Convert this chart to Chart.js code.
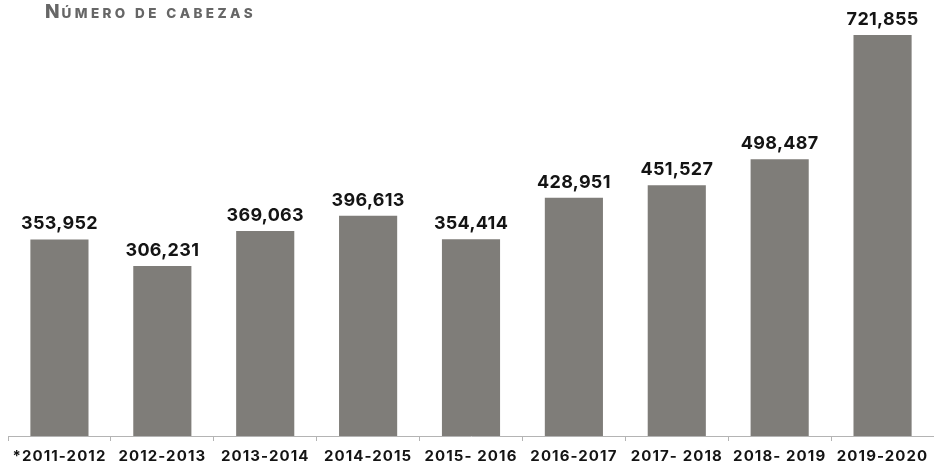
<!DOCTYPE html>
<html>
<head>
<meta charset="utf-8">
<script src="https://cdn.jsdelivr.net/npm/chart.js@4"></script>
<style>
  body { margin: 0; background: #fff; }
  #wrap { position: relative; width: 934px; height: 468px; }
</style>
</head>
<body>
<div id="wrap"><canvas id="chart"></canvas></div>
<script>
const seasons = ["*2011-2012", "2012-2013", "2013-2014", "2014-2015", "2015- 2016", "2016-2017", "2017- 2018", "2018- 2019", "2019-2020"];
const heads = [353952, 306231, 369063, 396613, 354414, 428951, 451527, 498487, 721855];
const titleText = "Número de cabezas";

const FONT = "Inter, 'DejaVu Sans', sans-serif";

// wider tracking for the axis labels (the original uses a wide geometric face)
const tracking = {
  id: "tracking",
  beforeDraw(chart) {
    chart.ctx.letterSpacing = "1.1px";
  }
};

// labels above each bar
const barLabels = {
  id: "barLabels",
  afterDatasetsDraw(chart) {
    const ctx = chart.ctx;
    const meta = chart.getDatasetMeta(0);
    ctx.save();
    ctx.letterSpacing = "0.3px";
    ctx.font = "bold 18px " + FONT;
    ctx.fillStyle = "#141414";
    ctx.textAlign = "center";
    ctx.textBaseline = "alphabetic";
    meta.data.forEach((bar, i) => {
      ctx.fillText(heads[i].toLocaleString("en-US"), bar.x, bar.y - 10);
    });
    ctx.restore();
  }
};

// small caps heading drawn by hand: big first letter, smaller capitals after
const heading = {
  id: "heading",
  afterDraw(chart) {
    const ctx = chart.ctx;
    ctx.save();
    ctx.letterSpacing = "0px";
    ctx.fillStyle = "#666";
    ctx.textBaseline = "alphabetic";
    let x = 45;
    const y = 18;
    ctx.font = "800 19px " + FONT;
    const first = titleText[0].toUpperCase();
    ctx.fillText(first, x, y);
    x += ctx.measureText(first).width + 2;
    ctx.font = "800 13.5px " + FONT;
    for (const ch of titleText.slice(1).toUpperCase()) {
      ctx.fillText(ch, x, y);
      x += ctx.measureText(ch).width + 3.4;
    }
    ctx.restore();
  }
};

new Chart(document.getElementById("chart"), {
  type: "bar",
  data: {
    labels: seasons,
    datasets: [{
      data: heads,
      backgroundColor: "#7f7d79",
      categoryPercentage: 1,
      barPercentage: 0.565
    }]
  },
  options: {
    responsive: true,
    maintainAspectRatio: false,
    animation: false,
    layout: { padding: { left: 8, right: 0, top: 0, bottom: -4 } },
    plugins: {
      legend: { display: false },
      tooltip: { enabled: false }
    },
    scales: {
      y: {
        display: false,
        min: 0,
        max: 785000
      },
      x: {
        border: { display: true, color: "#b4b4b4", width: 1 },
        grid: {
          offset: true,
          drawOnChartArea: false,
          drawTicks: true,
          tickLength: 5,
          color: "#b4b4b4"
        },
        ticks: {
          color: "#141414",
          padding: 8,
          font: { family: FONT, size: 15, weight: "bold", lineHeight: 1 },
          maxRotation: 0,
          autoSkip: false
        }
      }
    }
  },
  plugins: [tracking, barLabels, heading]
});
</script>
</body>
</html>
